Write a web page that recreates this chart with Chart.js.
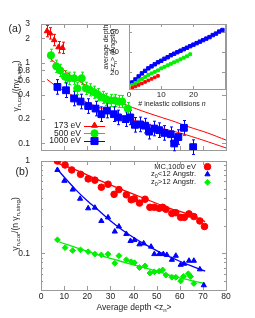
<!DOCTYPE html>
<html>
<head>
<meta charset="utf-8">
<script src="https://cdn.jsdelivr.net/npm/chart.js@4.4.1/dist/chart.umd.min.js"></script>
<style>
  html, body { margin: 0; padding: 0; background: #fff; }
  #quadro { position: relative; width: 255px; height: 318px; overflow: hidden; }
  #quadro canvas { position: absolute; left: 0; top: 0; }
</style>
</head>
<body>
<div id="quadro">
  <canvas id="graficoA" width="255" height="318"></canvas>
  <canvas id="graficoInset" width="255" height="318"></canvas>
  <canvas id="graficoB" width="255" height="318"></canvas>
</div>
<script>
// Painel (a): gamma corrigido por energia (com barras de erro)
const x173 = [2.6, 4.0, 5.7, 7.6, 9.3];
const y173 = [2.45, 2.3, 1.9, 1.55, 1.52];
const x500 = [4.3, 6.6, 8.3, 10.4, 12.1, 14.3, 15.7, 17.6, 19.4, 21.1, 23.0, 24.7, 26.6, 28.3, 30.1, 31.8, 33.6, 35.1, 37.5];
const y500 = [1.23, 0.9, 0.8, 0.67, 0.64, 0.64, 0.48, 0.64, 0.48, 0.46, 0.43, 0.4, 0.37, 0.35, 0.34, 0.34, 0.33, 0.33, 0.27];
const x1000 = [7.1, 10.8, 14.3, 17.1, 20.4, 23.6, 26.1, 28.5, 31.5, 33.3, 36.6, 38.6, 40.6, 42.8, 45.0, 46.8, 49.0, 51.1, 53.3, 56.1, 57.6, 59.4, 61.8, 65.8];
const y1000 = [0.50, 0.455, 0.36, 0.33, 0.29, 0.27, 0.23, 0.255, 0.23, 0.21, 0.20, 0.21, 0.17, 0.172, 0.166, 0.14, 0.153, 0.146, 0.135, 0.13, 0.10, 0.12, 0.156, 0.09];
// curvas de ajuste (vermelhas)
const ajusteSupX = [2.6, 7, 11, 16, 20, 25, 30, 38, 45, 51, 58, 64, 72, 80];
const ajusteSupY = [1.22, 0.95, 0.76, 0.6, 0.51, 0.42, 0.36, 0.29, 0.245, 0.215, 0.185, 0.16, 0.135, 0.11];
const ajusteInfX = [2.6, 7, 11, 20, 30, 40, 50, 60, 70, 80];
const ajusteInfY = [0.62, 0.5, 0.43, 0.32, 0.245, 0.195, 0.16, 0.135, 0.11, 0.088];
const ticksXA = [0, 10, 20, 30, 40, 50, 60, 70, 80];
const ticksYA = [0.1, 0.2, 0.4, 0.6, 0.8, 1, 2, 3];

// Inset: profundidade media vs numero de colisoes
const colisoes1000 = [1, 2, 3, 4, 5, 6, 7, 8, 9, 10, 11, 12, 13, 14, 15, 16, 17, 18, 19, 20, 21, 22, 23, 24, 25, 26, 27, 28, 29];
const prof1000 = [10, 13, 16, 19, 21.5, 24, 26, 28, 30, 31.5, 33.5, 35, 37, 38.5, 40, 41.5, 43, 44.5, 46, 47.5, 49, 50.5, 52, 53.5, 55, 57, 58.5, 60.5, 62];
const colisoes500 = [1, 2, 3, 4, 5, 6, 7, 8, 9, 10, 11, 12, 13, 14, 15, 16, 17, 18, 19];
const prof500 = [7.5, 9.5, 11.5, 13.5, 15.5, 17.5, 19, 20.5, 22, 24, 25.5, 27, 28.5, 30, 31.5, 33, 34.5, 36, 38];
const colisoes173 = [1, 2, 3, 4, 5, 6, 7, 8, 9];
const prof173 = [4.5, 6, 7.5, 9, 10.5, 12, 13.5, 15, 16.5];
const ticksXInset = [0, 10, 20];
const ticksYInset = [20, 40, 60];

// Painel (b): MC 1000 eV
const xMC = [7.1, 10.4, 13.3, 17.1, 20.4, 23.3, 26.1, 29.0, 31.6, 33.7, 36.9, 39.0, 40.4, 42.6, 45.0, 47.1, 49.0, 51.1, 52.6, 54.0, 56.6, 58.3, 60.4, 62.0, 64.0, 66.1, 68.7, 70.7];
const yMC = [1.0, 0.905, 0.80, 0.717, 0.64, 0.62, 0.52, 0.56, 0.435, 0.49, 0.43, 0.38, 0.39, 0.35, 0.385, 0.315, 0.315, 0.307, 0.315, 0.30, 0.27, 0.275, 0.245, 0.245, 0.267, 0.25, 0.224, 0.195];
const xRaso = [7.1, 10.1, 13.7, 16.9, 20.4, 23.3, 26.1, 29.0, 31.9, 33.7, 36.9, 38.7, 40.4, 42.6, 44.4, 47.6, 49.0, 51.1, 52.9, 54.4, 56.6, 58.3, 60.4, 61.9, 64.0, 66.1, 68.7, 70.4];
const yRaso = [0.80, 0.61, 0.49, 0.39, 0.307, 0.312, 0.224, 0.245, 0.172, 0.195, 0.162, 0.136, 0.139, 0.125, 0.128, 0.118, 0.098, 0.098, 0.098, 0.096, 0.085, 0.094, 0.075, 0.077, 0.083, 0.083, 0.067, 0.045];
const xFundo = [7.1, 10.4, 13.7, 17.1, 20.4, 23.3, 26.1, 29.0, 31.9, 33.7, 36.9, 39.0, 40.4, 42.6, 45.0, 47.1, 49.0, 51.1, 52.6, 54.0, 56.6, 58.3, 60.4, 61.6, 63.7, 64.7, 66.1];
const yFundo = [0.14, 0.115, 0.107, 0.109, 0.104, 0.098, 0.096, 0.098, 0.078, 0.094, 0.085, 0.081, 0.079, 0.07, 0.073, 0.061, 0.063, 0.064, 0.066, 0.058, 0.055, 0.055, 0.05, 0.056, 0.06, 0.056, 0.047];
const ajusteMCX = [6.5, 15, 25, 35, 45, 55, 65, 71];
const ajusteMCY = [0.96, 0.8, 0.62, 0.49, 0.39, 0.31, 0.26, 0.22];
const ajusteRasoX = [7, 10, 15, 20, 25, 30, 35, 40, 45, 50, 55, 60, 65, 71];
const ajusteRasoY = [0.82, 0.67, 0.49, 0.37, 0.29, 0.225, 0.18, 0.148, 0.125, 0.107, 0.093, 0.082, 0.073, 0.064];
const ajusteFundoX = [7, 20, 30, 40, 50, 60, 71];
const ajusteFundoY = [0.135, 0.105, 0.088, 0.075, 0.064, 0.054, 0.047];
const ticksXB = [0, 10, 20, 30, 40, 50, 60, 70, 80];
const ticksYB = [0.1, 1];
const menoresYB = [0.04, 0.05, 0.06, 0.07, 0.08, 0.09, 0.2, 0.3, 0.4, 0.5, 0.6, 0.7, 0.8, 0.9];

const VERMELHO = '#ff0000';
const VERDE = '#00f000';
const AZUL = '#0000ff';
const COR_TEXTO = '#222';
const COR_MOLDURA = '#9a9a9a';
const FONTE = '"Liberation Sans", Arial, Helvetica, sans-serif';

Chart.defaults.font.family = FONTE;
Chart.defaults.color = COR_TEXTO;

function zip(xs, ys) {
  return xs.map((x, i) => ({ x: x, y: ys[i] }));
}

// texto com subscrito / italico: partes = [[texto, 'n' | 's' | 'i']]
function textoRico(ctx, partes, x, y, tam, girar, alinhar) {
  ctx.save();
  ctx.translate(x, y);
  if (girar) ctx.rotate(-Math.PI / 2);
  const fonte = p => (p[1] === 'i' ? 'italic ' : '') + (p[1] === 's' ? tam * 0.72 : tam) + 'px ' + FONTE;
  let total = 0;
  partes.forEach(p => { ctx.font = fonte(p); total += ctx.measureText(p[0]).width; });
  let cx = alinhar === 'right' ? -total : -total / 2;
  ctx.textBaseline = 'middle';
  ctx.fillStyle = COR_TEXTO;
  partes.forEach(p => {
    ctx.font = fonte(p);
    ctx.fillText(p[0], cx, p[1] === 's' ? tam * 0.32 : 0);
    cx += ctx.measureText(p[0]).width;
  });
  ctx.restore();
}

function marcador(ctx, estilo, raio, cor, x, y) {
  ctx.save();
  ctx.fillStyle = cor;
  ctx.strokeStyle = cor;
  Chart.helpers.drawPoint(ctx, { pointStyle: estilo, radius: raio, rotation: 0, borderWidth: 1 }, x, y);
  ctx.restore();
}

// moldura estilo gnuplot: borda cinza, ticks para dentro, barras de erro, textos
function moldura(cfg) {
  return {
    id: 'moldura',
    beforeDatasetsDraw(chart) {
      const { ctx, chartArea: a, scales } = chart;
      ctx.save();
      if (cfg.fundoBranco) {
        ctx.fillStyle = '#fff';
        ctx.fillRect(a.left, a.top, a.right - a.left, a.bottom - a.top);
      }
      ctx.strokeStyle = COR_MOLDURA;
      ctx.lineWidth = 1;
      ctx.beginPath();
      const tl = cfg.tick || 4;
      scales.x.ticks.forEach(t => {
        const px = Math.round(scales.x.getPixelForValue(t.value)) + 0.5;
        ctx.moveTo(px, a.bottom); ctx.lineTo(px, a.bottom - tl);
        ctx.moveTo(px, a.top); ctx.lineTo(px, a.top + tl);
      });
      const marcaY = (v, len) => {
        const py = Math.round(scales.y.getPixelForValue(v)) + 0.5;
        ctx.moveTo(a.left, py); ctx.lineTo(a.left + len, py);
        ctx.moveTo(a.right, py); ctx.lineTo(a.right - len, py);
      };
      scales.y.ticks.forEach(t => marcaY(t.value, tl));
      (cfg.menores || []).forEach(v => marcaY(v, tl / 2));
      ctx.stroke();
      ctx.strokeRect(Math.round(a.left) + 0.5, Math.round(a.top) + 0.5, Math.round(a.right - a.left), Math.round(a.bottom - a.top));

      // rotulos do eixo x
      if (cfg.rotulosX) {
        ctx.fillStyle = COR_TEXTO;
        ctx.font = cfg.rotulosX.tam + 'px ' + FONTE;
        ctx.textAlign = 'center';
        ctx.textBaseline = 'middle';
        scales.x.ticks.forEach(t => {
          ctx.fillText(String(t.value), scales.x.getPixelForValue(t.value), a.bottom + cfg.rotulosX.dy);
        });
      }

      // barras de erro
      chart.data.datasets.forEach((ds, i) => {
        if (!ds.erro) return;
        const meta = chart.getDatasetMeta(i);
        ctx.strokeStyle = ds.borderColor;
        ctx.lineWidth = 1;
        ctx.beginPath();
        meta.data.forEach(el => {
          const h = ds.pointRadius + 2.5;
          const x = Math.round(el.x) + 0.5;
          ctx.moveTo(x, el.y - h); ctx.lineTo(x, el.y + h);
          ctx.moveTo(x - 1.5, el.y - h); ctx.lineTo(x + 1.5, el.y - h);
          ctx.moveTo(x - 1.5, el.y + h); ctx.lineTo(x + 1.5, el.y + h);
        });
        ctx.stroke();
      });
      ctx.restore();
    },
    afterDraw(chart) {
      const ctx = chart.ctx;
      (cfg.textos || []).forEach(t => textoRico(ctx, t.partes, t.x, t.y, t.tam, t.girar, t.alinhar));
      (cfg.legenda || []).forEach(l => {
        textoRico(ctx, l.partes, l.xTexto, l.y, l.tam, false, 'right');
        if (l.linha) {
          ctx.save();
          ctx.strokeStyle = l.cor;
          ctx.lineWidth = 1;
          ctx.beginPath();
          ctx.moveTo(l.linha[0], Math.round(l.y) + 0.5);
          ctx.lineTo(l.linha[1], Math.round(l.y) + 0.5);
          ctx.stroke();
          ctx.restore();
        }
        marcador(ctx, l.estilo, l.raio, l.cor, l.xMarca, l.y);
      });
    }
  };
}

function pontos(rotulo, xs, ys, estilo, raio, cor, ordem, erro) {
  return {
    label: rotulo, data: zip(xs, ys), showLine: false, erro: !!erro,
    pointStyle: estilo, pointRadius: raio, pointBorderWidth: 1,
    backgroundColor: cor, borderColor: cor, order: ordem
  };
}

function linha(xs, ys, cor, larg, ordem) {
  return {
    data: zip(xs, ys), showLine: true, pointRadius: 0, borderColor: cor,
    borderWidth: larg, backgroundColor: cor, order: ordem, tension: 0.3
  };
}

const fonteTick = { size: 8.5 };

function eixoX(min, max, lista) {
  return {
    type: 'linear', min: min, max: max,
    grid: { display: false }, border: { display: false },
    ticks: { display: false },
    afterBuildTicks: s => { s.ticks = lista.map(v => ({ value: v })); },
    afterFit: s => { s.height = 0; }
  };
}

// ---------- Painel (a) ----------
new Chart(document.getElementById('graficoA'), {
  type: 'scatter',
  data: {
    datasets: [
      linha(ajusteSupX, ajusteSupY, VERMELHO, 1, 10),
      linha(ajusteInfX, ajusteInfY, VERMELHO, 1, 10),
      pontos('173 eV', x173, y173, 'triangle', 3.2, VERMELHO, 3, true),
      pontos('500 eV', x500, y500, 'circle', 3.6, VERDE, 2, true),
      pontos('1000 eV', x1000, y1000, 'rect', 4.8, AZUL, 1, true)
    ]
  },
  options: {
    responsive: false, animation: false,
    layout: { padding: { left: 0, top: 24, right: 29, bottom: 168 } },
    plugins: { legend: { display: false }, tooltip: { enabled: false } },
    scales: {
      x: eixoX(0, 80, ticksXA),
      y: {
        type: 'logarithmic', min: 0.083, max: 3,
        grid: { display: false }, border: { display: false },
        ticks: { autoSkip: false, padding: 3, font: fonteTick, callback: v => ticksYA.includes(v) ? String(v) : '' },
        afterBuildTicks: s => { s.ticks = ticksYA.map(v => ({ value: v })); },
        afterFit: s => { s.width = 41; }
      }
    }
  },
  plugins: [moldura({
    textos: [
      { partes: [['(a)', 'n']], x: 15, y: 29, tam: 10.5 },
      { partes: [['γ', 'n'], ['n,cor', 's'], ['/(nγ', 'n'], ['n,sing', 's'], [')', 'n']], x: 17, y: 86, tam: 8.5, girar: true }
    ],
    legenda: [
      { partes: [['173 eV', 'n']], xTexto: 81, y: 125.5, tam: 8.5, linha: [84, 105], xMarca: 94.5, estilo: 'triangle', raio: 3.5, cor: VERMELHO },
      { partes: [['500 eV', 'n']], xTexto: 81, y: 133.3, tam: 8.5, linha: [84, 105], xMarca: 94.5, estilo: 'circle', raio: 3.6, cor: VERDE },
      { partes: [['1000 eV', 'n']], xTexto: 81, y: 141, tam: 8.5, linha: [84, 105], xMarca: 94.5, estilo: 'rect', raio: 5, cor: AZUL }
    ]
  })]
});

// ---------- Inset ----------
new Chart(document.getElementById('graficoInset'), {
  type: 'scatter',
  data: {
    datasets: [
      pontos('173 eV', colisoes173, prof173, 'rect', 1.8, VERMELHO, 1),
      pontos('500 eV', colisoes500, prof500, 'rect', 2.0, VERDE, 2),
      pontos('1000 eV', colisoes1000, prof1000, 'rect', 2.4, AZUL, 3)
    ]
  },
  options: {
    responsive: false, animation: false,
    layout: { padding: { left: 100, top: 24, right: 30, bottom: 229 } },
    plugins: { legend: { display: false }, tooltip: { enabled: false } },
    scales: {
      x: eixoX(0, 29.8, ticksXInset),
      y: {
        type: 'linear', min: 3.5, max: 68,
        grid: { display: false }, border: { display: false },
        ticks: { autoSkip: false, padding: 2, font: { size: 8 } },
        afterBuildTicks: s => { s.ticks = ticksYInset.map(v => ({ value: v })); },
        afterFit: s => { s.width = 29; }
      }
    }
  },
  plugins: [moldura({
    fundoBranco: true, tick: 3,
    rotulosX: { tam: 8, dy: 5.5 },
    textos: [
      { partes: [['# inelastic collisions ', 'n'], ['n', 'i']], x: 172, y: 104, tam: 7 },
      { partes: [['average depth', 'n']], x: 106, y: 47, tam: 7, girar: true },
      { partes: [['<z', 'n'], ['n', 's'], ['> (Angstr.)', 'n']], x: 113.5, y: 50, tam: 7, girar: true }
    ]
  })]
});

// ---------- Painel (b) ----------
new Chart(document.getElementById('graficoB'), {
  type: 'scatter',
  data: {
    datasets: [
      linha(ajusteMCX, ajusteMCY, VERMELHO, 1.3, 10),
      linha(ajusteRasoX, ajusteRasoY, AZUL, 1.3, 10),
      linha(ajusteFundoX, ajusteFundoY, VERDE, 1.3, 10),
      pontos('MC,1000 eV', xMC, yMC, 'circle', 3.3, VERMELHO, 3),
      pontos('z0<12 Angstr.', xRaso, yRaso, 'triangle', 3.0, AZUL, 2),
      pontos('z0>12 Angstr.', xFundo, yFundo, 'rectRot', 2.9, VERDE, 1)
    ]
  },
  options: {
    responsive: false, animation: false,
    layout: { padding: { left: 0, top: 161, right: 29, bottom: 28 } },
    plugins: { legend: { display: false }, tooltip: { enabled: false } },
    scales: {
      x: eixoX(0, 80, ticksXB),
      y: {
        type: 'logarithmic', min: 0.04, max: 1,
        grid: { display: false }, border: { display: false },
        ticks: { autoSkip: false, padding: 3, font: fonteTick, callback: v => ticksYB.includes(v) ? String(v) : '' },
        afterBuildTicks: s => { s.ticks = ticksYB.map(v => ({ value: v })); },
        afterFit: s => { s.width = 41; }
      }
    }
  },
  plugins: [moldura({
    menores: menoresYB,
    rotulosX: { tam: 8.5, dy: 7 },
    textos: [
      { partes: [['(b)', 'n']], x: 22, y: 172, tam: 10.5 },
      { partes: [['γ', 'n'], ['n,cor', 's'], ['/(n γ', 'n'], ['n,sing', 's'], [')', 'n']], x: 16, y: 224, tam: 8.5, girar: true },
      { partes: [['Average depth <z', 'n'], ['n', 's'], ['>', 'n']], x: 134, y: 308, tam: 8.5 }
    ],
    legenda: [
      { partes: [['MC,1000 eV', 'n']], xTexto: 196, y: 166.7, tam: 7.5, xMarca: 207.5, estilo: 'circle', raio: 3.3, cor: VERMELHO },
      { partes: [['z', 'n'], ['0', 's'], ['<12 Angstr.', 'n']], xTexto: 196, y: 174.3, tam: 7.5, xMarca: 207.5, estilo: 'triangle', raio: 3.0, cor: AZUL },
      { partes: [['z', 'n'], ['0', 's'], ['>12 Angstr.', 'n']], xTexto: 196, y: 182.3, tam: 7.5, xMarca: 207.5, estilo: 'rectRot', raio: 2.9, cor: VERDE }
    ]
  })]
});
</script>
</body>
</html>
